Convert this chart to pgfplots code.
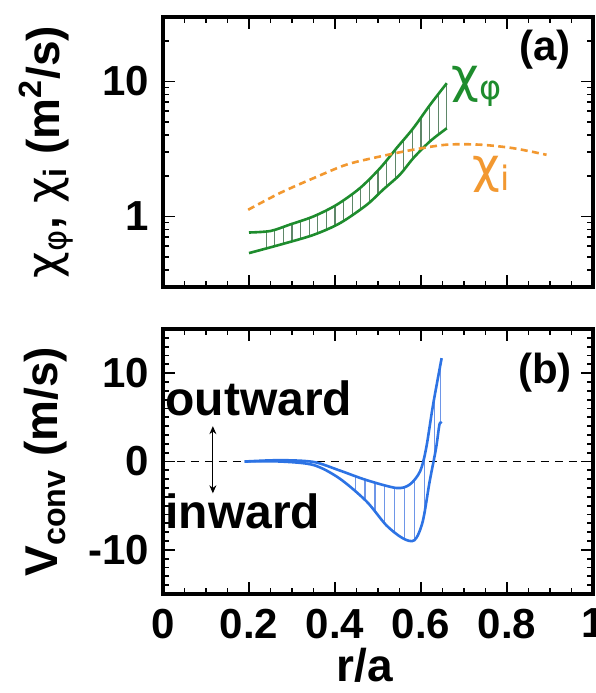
\documentclass[border=0pt]{standalone}
\usepackage{fontspec}
\setmainfont{Liberation Sans}
\newfontfamily\gr{DejaVu Sans}
\usepackage{pgfplots}
\pgfplotsset{compat=1.18}
\usetikzlibrary{arrows.meta}

\definecolor{cgreen}{RGB}{30,140,45}
\definecolor{chatchg}{RGB}{95,135,105}
\definecolor{corange}{RGB}{242,152,48}
\definecolor{cblue}{RGB}{45,115,228}
\definecolor{chatchb}{RGB}{110,150,232}

\tikzset{tk/.style={black, line width=0.9pt}}

\pgfplotsset{
  myaxis/.style={
    scale only axis, width=215pt,
    xmin=0, xmax=1,
    xtick={0,0.2,0.4,0.6,0.8,1},
    tick align=inside,
    major tick length=0pt, minor tick length=0pt,
    axis line style={line width=1.8pt},
    tick label style={font=\fontsize{21}{21}\selectfont\bfseries},
    yticklabel style={xshift=-3.5pt},
    xticklabel style={yshift=-4pt},
    label style={font=\fontsize{23}{23}\selectfont\bfseries},
    unbounded coords=jump,
  }
}

\begin{document}
\begin{tikzpicture}
\begin{axis}[myaxis, name=A, height=135pt,
  ymode=log, ymin=0.3, ymax=30,
  ytick={1,10}, yticklabels={1,10},
  xticklabels={},
  ylabel={{\gr\mdseries χ}\textsubscript{{\gr\mdseries φ}}, {\gr\mdseries χ}\textsubscript{i} (m\textsuperscript{2}/s)},
  ylabel style={at={(axis description cs:-0.272,0.5)}, anchor=center},
]
\coordinate (Atl) at (rel axis cs:0,1);
% tick marks
\pgfplotsinvokeforeach{0.2,0.4,0.6,0.8}{
  \draw[tk] (axis cs:#1,0.3) -- ++(0pt,6pt);
  \draw[tk] (axis cs:#1,30) -- ++(0pt,-6pt);}
\pgfplotsinvokeforeach{0.05,0.1,0.15,0.25,0.3,0.35,0.45,0.5,0.55,0.65,0.7,0.75,0.85,0.9,0.95}{
  \draw[tk] (axis cs:#1,0.3) -- ++(0pt,3pt);
  \draw[tk] (axis cs:#1,30) -- ++(0pt,-3pt);}
\pgfplotsinvokeforeach{1,10}{
  \draw[tk] (axis cs:0,#1) -- ++(6pt,0pt);
  \draw[tk] (axis cs:1,#1) -- ++(-6pt,0pt);}
\pgfplotsinvokeforeach{0.4,0.5,0.6,0.7,0.8,0.9,2,3,4,5,6,7,8,9,20}{
  \draw[tk] (axis cs:0,#1) -- ++(3pt,0pt);
  \draw[tk] (axis cs:1,#1) -- ++(-3pt,0pt);}
% hatching between the two chi_phi curves
\addplot[chatchg, line width=0.6pt] coordinates {
(0.24,0.58) (0.24,0.775) (0.25,nan)
(0.26,0.60) (0.26,0.79) (0.27,nan)
(0.28,0.63) (0.28,0.83) (0.29,nan)
(0.30,0.66) (0.30,0.88) (0.31,nan)
(0.32,0.69) (0.32,0.93) (0.33,nan)
(0.34,0.72) (0.34,0.98) (0.35,nan)
(0.36,0.75) (0.36,1.04) (0.37,nan)
(0.38,0.80) (0.38,1.11) (0.39,nan)
(0.40,0.86) (0.40,1.20) (0.41,nan)
(0.42,0.92) (0.42,1.32) (0.43,nan)
(0.44,1.01) (0.44,1.46) (0.45,nan)
(0.46,1.12) (0.46,1.64) (0.47,nan)
(0.48,1.26) (0.48,1.88) (0.49,nan)
(0.50,1.45) (0.50,2.20) (0.51,nan)
(0.52,1.66) (0.52,2.60) (0.53,nan)
(0.54,1.92) (0.54,3.10) (0.55,nan)
(0.56,2.25) (0.56,3.75) (0.57,nan)
(0.58,2.68) (0.58,4.45) (0.59,nan)
(0.60,3.10) (0.60,5.40) (0.61,nan)
(0.62,3.58) (0.62,6.60) (0.63,nan)
(0.64,4.05) (0.64,8.00) (0.65,nan)
(0.66,4.50) (0.66,9.70)};
\addplot[cgreen, line width=1.3pt, smooth] coordinates {
(0.200,0.76) (0.250,0.78) (0.295,0.87) (0.350,1.00) (0.404,1.22) (0.458,1.62)
(0.505,2.28) (0.543,3.20) (0.582,4.50) (0.621,6.70) (0.660,9.70)};
\addplot[cgreen, line width=1.3pt, smooth] coordinates {
(0.200,0.535) (0.272,0.617) (0.350,0.73) (0.412,0.893) (0.474,1.22) (0.512,1.58)
(0.551,2.04) (0.582,2.70) (0.621,3.60) (0.660,4.50)};
\addplot[corange, line width=1.3pt, dash pattern=on 3.5pt off 2.2pt, smooth] coordinates {
(0.198,1.12) (0.272,1.49) (0.350,1.92) (0.427,2.42) (0.505,2.78) (0.582,3.12)
(0.660,3.40) (0.737,3.40) (0.815,3.20) (0.892,2.86)};
\node[cgreen, font=\fontsize{24}{24}\selectfont\gr] at (axis cs:0.730,9.2) {χ\textsubscript{φ}};
\node[corange, font=\fontsize{24}{24}\selectfont\gr] at (axis cs:0.765,2.05) {χ\textsubscript{i}};
\node[font=\fontsize{21}{21}\selectfont\bfseries] at (axis cs:0.888,17.3) {(a)};
\end{axis}

\begin{axis}[myaxis, name=B, height=132.5pt,
  at={(A.south west)}, anchor=north west, yshift=-21pt,
  ymin=-15, ymax=15,
  ytick={-10,0,10}, yticklabels={-10,0,10},
  xticklabels={0,0.2,0.4,0.6,0.8,1},
  xlabel={r/a},
  xlabel style={at={(axis description cs:0.47,-0.268)}, anchor=center},
  ylabel={V\textsubscript{conv} (m/s)},
  ylabel style={at={(axis description cs:-0.272,0.5)}, anchor=center},
]
\coordinate (Bbr) at (rel axis cs:1,0);
% tick marks
\pgfplotsinvokeforeach{0.2,0.4,0.6,0.8}{
  \draw[tk] (axis cs:#1,-15) -- ++(0pt,6pt);
  \draw[tk] (axis cs:#1,15) -- ++(0pt,-6pt);}
\pgfplotsinvokeforeach{0.05,0.1,0.15,0.25,0.3,0.35,0.45,0.5,0.55,0.65,0.7,0.75,0.85,0.9,0.95}{
  \draw[tk] (axis cs:#1,-15) -- ++(0pt,3pt);
  \draw[tk] (axis cs:#1,15) -- ++(0pt,-3pt);}
\pgfplotsinvokeforeach{-10,0,10}{
  \draw[tk] (axis cs:0,#1) -- ++(6pt,0pt);
  \draw[tk] (axis cs:1,#1) -- ++(-6pt,0pt);}
\pgfplotsinvokeforeach{-14,-13,-12,-11,-9,-8,-7,-6,-5,-4,-3,-2,-1,1,2,3,4,5,6,7,8,9,11,12,13,14}{
  \draw[tk] (axis cs:0,#1) -- ++(3pt,0pt);
  \draw[tk] (axis cs:1,#1) -- ++(-3pt,0pt);}
\addplot[black, line width=0.7pt, dash pattern=on 4pt off 3pt] coordinates {(0,0) (1,0)};
\addplot[chatchb, line width=0.6pt] coordinates {
(0.447,-3.3) (0.447,-1.6) (0.455,nan)
(0.470,-4.4) (0.470,-2.05) (0.48,nan)
(0.493,-5.6) (0.493,-2.4) (0.50,nan)
(0.516,-7.0) (0.516,-2.7) (0.52,nan)
(0.539,-8.0) (0.539,-2.95) (0.545,nan)
(0.562,-8.75) (0.562,-2.85) (0.57,nan)
(0.585,-8.9) (0.585,-2.0) (0.59,nan)
(0.608,-6.0) (0.608,0.5) (0.615,nan)
(0.631,0.5) (0.631,7.0) (0.64,nan)
(0.646,4.3) (0.646,10.5)};
\addplot[cblue, line width=1.3pt, smooth] coordinates {
(0.190,0.0) (0.272,0.15) (0.350,-0.05) (0.410,-1.0) (0.473,-2.1) (0.543,-3.0)
(0.574,-2.6) (0.598,-1.1) (0.612,1.5) (0.628,6.4) (0.648,11.7)};
\addplot[cblue, line width=1.3pt, smooth] coordinates {
(0.190,0.0) (0.272,0.0) (0.350,-0.4) (0.410,-1.9) (0.473,-4.5) (0.519,-7.2)
(0.558,-8.7) (0.585,-8.9) (0.604,-6.8) (0.620,-2.3) (0.635,1.5) (0.643,4.2) (0.648,4.3)};
\addplot[black, line width=0.6pt, {Stealth[length=4pt,width=3.5pt]}-{Stealth[length=4pt,width=3.5pt]}] coordinates {(0.116,4.0) (0.116,-3.6)};
\node[anchor=west, inner sep=0pt, font=\fontsize{24}{24}\selectfont\bfseries] at (axis cs:0.005,7.2) {outward};
\node[anchor=west, inner sep=0pt, font=\fontsize{24}{24}\selectfont\bfseries] at (axis cs:0.005,-5.6) {inward};
\node[font=\fontsize{21}{21}\selectfont\bfseries] at (axis cs:0.888,10.1) {(b)};
\end{axis}
\pgfresetboundingbox
\path ([xshift=-81.5pt,yshift=8.5pt]Atl) rectangle ([xshift=1.5pt,yshift=-49.5pt]Bbr);
\end{tikzpicture}
\end{document}
